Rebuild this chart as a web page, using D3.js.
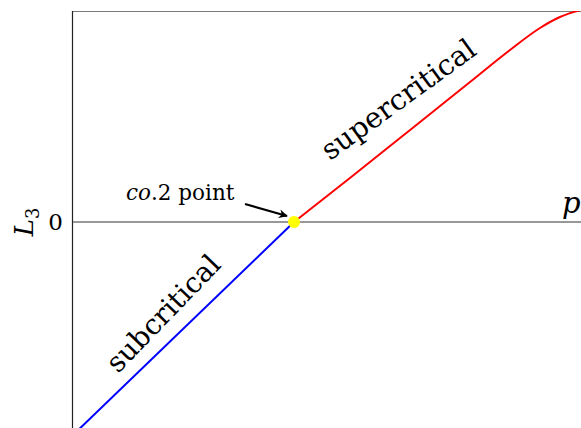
<!DOCTYPE html>
<html>
<head>
<meta charset="utf-8">
<script src="https://cdn.jsdelivr.net/npm/d3@7"></script>
<style>
  html, body { margin: 0; padding: 0; background: #fff; }
  svg { display: block; }
</style>
</head>
<body>
<svg id="chart" width="581" height="428"></svg>
<script>
// Subcritical branch (blue), p from 0 to the co.2 point
const subP = [0.0, 1.0];
const subL = [-2.14, 0.0];
// Supercritical branch (red), from the co.2 point upward
const superP = [1.0, 1.252, 1.523, 1.793, 1.973, 2.108, 2.198, 2.293];
const superL = [0.0, 0.44, 0.92, 1.40, 1.72, 1.94, 2.05, 2.12];
// Transition point
const pointP = [1.0];
const pointL = [0.0];
// Axis tick labels
const yTicks = [0];

const FONT = "'DejaVu Serif', serif";
const svg = d3.select("#chart");
const W = 581, H = 428;
const mLeft = 72, mTop = 11;

const x = d3.scaleLinear().domain([0, 2.293]).range([mLeft, mLeft + 2.293 * 222]);
const y = d3.scaleLinear().domain([-2.2, 2.11]).range([mTop + 4.31 * 100, mTop]);

const defs = svg.append("defs");
defs.append("clipPath").attr("id", "plotClip")
  .append("rect").attr("x", mLeft).attr("y", mTop).attr("width", W - mLeft).attr("height", H - mTop + 20);

// frame: top border and left axis
svg.append("line").attr("x1", mLeft).attr("x2", W).attr("y1", mTop + 0.5).attr("y2", mTop + 0.5)
  .attr("stroke", "#7a7a7a").attr("stroke-width", 1.2);
svg.append("line").attr("x1", mLeft + 0.5).attr("x2", mLeft + 0.5).attr("y1", mTop).attr("y2", H)
  .attr("stroke", "#222").attr("stroke-width", 1.2);

// zero line (p axis)
svg.append("line").attr("x1", mLeft).attr("x2", W).attr("y1", y(0)).attr("y2", y(0))
  .attr("stroke", "#333").attr("stroke-width", 1.2);

// y tick label
svg.selectAll(".ytick").data(yTicks).enter().append("text")
  .attr("class", "ytick")
  .attr("font-family", FONT)
  .attr("x", mLeft - 9).attr("y", d => y(d) + 8)
  .attr("text-anchor", "end")
  .attr("font-size", 23).text(d => d);

// y axis title L_3
const yt = svg.append("text")
  .attr("font-family", FONT)
  .attr("transform", `translate(33, ${y(0)}) rotate(-90)`)
  .attr("text-anchor", "middle")
  .attr("font-size", 26);
yt.append("tspan").attr("font-style", "italic").text("L");
yt.append("tspan").attr("dy", 6).attr("font-size", 18).text("3");

// p axis label
svg.append("text").attr("font-family", FONT).attr("x", 562).attr("y", y(0) - 9)
  .attr("font-size", 29).attr("font-style", "italic").text("p");

const line = d3.line().x(d => x(d[0])).y(d => y(d[1]));
const plot = svg.append("g").attr("clip-path", "url(#plotClip)");

plot.append("path")
  .datum(subP.map((p, i) => [p, subL[i]]))
  .attr("d", line)
  .attr("fill", "none").attr("stroke", "#0000ff").attr("stroke-width", 2);

plot.append("path")
  .datum(superP.map((p, i) => [p, superL[i]]))
  .attr("d", line.curve(d3.curveMonotoneX))
  .attr("fill", "none").attr("stroke", "#ff0000").attr("stroke-width", 2);

// arrow pointing to the co.2 point
defs.append("marker")
  .attr("id", "arrowHead").attr("viewBox", "0 0 10 10")
  .attr("refX", 9).attr("refY", 5)
  .attr("markerWidth", 9).attr("markerHeight", 9)
  .attr("markerUnits", "userSpaceOnUse")
  .attr("orient", "auto")
  .append("path").attr("d", "M0,0 L10,5 L0,10 L3,5 Z").attr("fill", "#000");
svg.append("line")
  .attr("x1", 245).attr("y1", 204)
  .attr("x2", x(pointP[0]) - 7).attr("y2", y(pointL[0]) - 6)
  .attr("stroke", "#000").attr("stroke-width", 2.2)
  .attr("marker-end", "url(#arrowHead)");

svg.selectAll(".pt").data(pointP).enter().append("circle")
  .attr("class", "pt")
  .attr("cx", d => x(d)).attr("cy", (d, i) => y(pointL[i]))
  .attr("r", 6).attr("fill", "#ffff00");

// annotation
const ann = svg.append("text").attr("font-family", FONT).attr("x", 126).attr("y", 200).attr("font-size", 21.5);
ann.append("tspan").attr("font-style", "italic").text("co");
ann.append("tspan").text(".2 point");

// branch labels
svg.append("text").attr("font-family", FONT)
  .attr("transform", "translate(330,161) rotate(-36)")
  .attr("font-size", 28.5).text("supercritical");
svg.append("text").attr("font-family", FONT)
  .attr("transform", "translate(118,374) rotate(-46)")
  .attr("font-size", 28).text("subcritical");
</script>
</body>
</html>
